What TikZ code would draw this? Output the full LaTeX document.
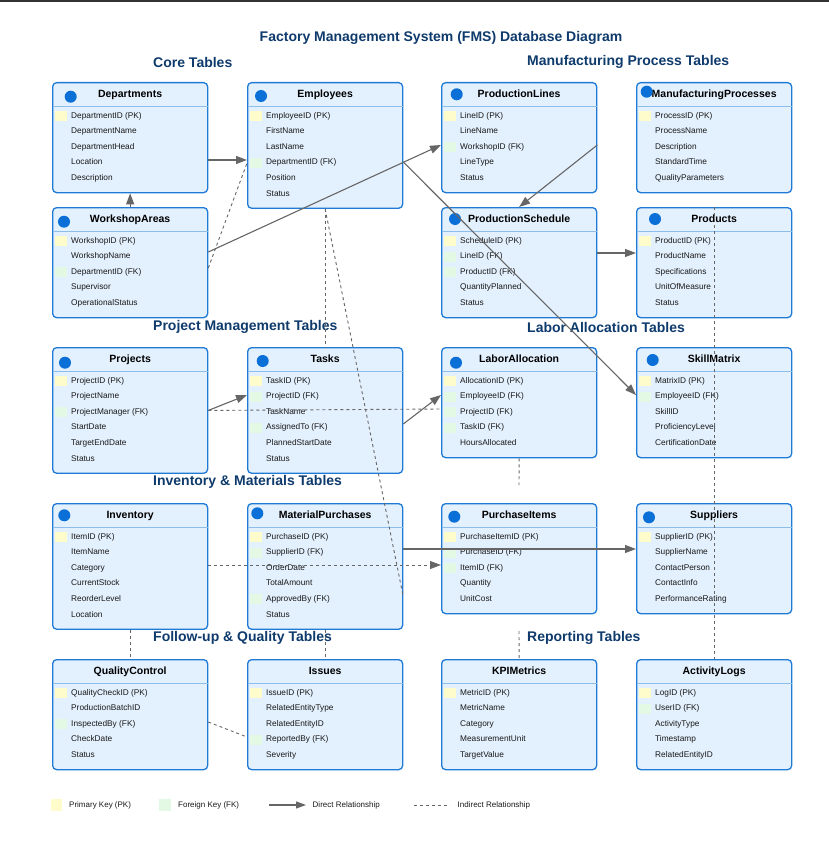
\documentclass[tikz,border=0pt]{standalone}
\usepackage{fontspec}
\setmainfont{Liberation Sans}
\usetikzlibrary{calc,arrows.meta,positioning}
\definecolor{boxfill}{HTML}{E3F0FD}
\definecolor{boxline}{HTML}{1F7AD6}
\definecolor{hdrsep}{HTML}{8DBDEB}
\definecolor{iconblue}{HTML}{0A70D8}
\definecolor{navy}{HTML}{0E3A6C}
\definecolor{keyp}{HTML}{FFFCCB}
\definecolor{keyf}{HTML}{E4F9E4}
\colorlet{keyn}{boxfill}
\definecolor{relgrey}{HTML}{666666}
\definecolor{topbar}{HTML}{333333}
\tikzset{
    tablebox/.style={
    rectangle,rounded corners=4pt,draw=boxline,fill=boxfill,line width=1.3pt,
    minimum width=155pt,inner sep=0pt,anchor=north west
    },
    hdrtext/.style={
    font=\fontsize{10.5}{12}\selectfont\bfseries,text=black,
    text height=7.6pt,text depth=2.2pt,inner sep=0pt
    },
    fieldtext/.style={
    font=\fontsize{8.3}{9}\selectfont,text=black!90,anchor=west,inner sep=0pt,
    text height=6.1pt,text depth=1.8pt
    },
    secttitle/.style={
    font=\fontsize{14}{16}\selectfont\bfseries,text=navy,anchor=west,inner sep=0pt
    },
    legendtext/.style={
    font=\fontsize{8}{9}\selectfont,text=black!90,anchor=west,inner sep=0pt,
    text height=5.9pt,text depth=1.7pt
    },
    icon/.style={
    fill=iconblue
    },
    rel/.style={
    draw=relgrey,line width=1.1pt,->
    },
    indirect/.style={
    draw=relgrey,line width=0.9pt,dash pattern=on 3pt off 3pt
    },
}
% table: name, x, y, title, number of fields, fields (key/text)
\newcommand{\dbtable}[6]{%
  \node[tablebox,minimum height=32+15.6*#5] (#1) at (#2,#3) {};
  \draw[hdrsep,line width=0.9pt] ($(#1.north west)+(0.7,24)$) -- ($(#1.north east)+(-0.7,24)$);
  \node[hdrtext] (#1t) at ($(#1.north)+(0,12.5)$) {#4};
  \foreach \k/\f [count=\i] in {#6} {
    \pgfmathsetmacro\ry{34+15.6*(\i-1)}
    \fill[fill=key\k] ($(#1.north west)+(3,\ry-5)$) rectangle ++(11.7,10);
    \node[fieldtext] (#1f\i) at ($(#1.north west)+(19,\ry)$) {\f};
  }%
}

\begin{document}
\begin{tikzpicture}[x=1pt,y=-1pt,>={Triangle[length=11pt,width=8pt]}]
  \useasboundingbox (0,0) rectangle (829,856);
  \fill[topbar] (0,0) rectangle (829,2);

  \node[font=\fontsize{14}{16}\selectfont\bfseries,text=navy] (title) at (441,38) {Factory Management System (FMS) Database Diagram};
  \node[secttitle] (s1) at (153,62) {Core Tables};
  \node[secttitle] (s2) at (527,62) {Manufacturing Process Tables};
  \node[secttitle] (s3) at (153,327) {Project Management Tables};
  \node[secttitle] (s4) at (527,327) {Labor Allocation Tables};
  \node[secttitle] (s5) at (153,482) {Inventory \& Materials Tables};
  \node[secttitle] (s6) at (153,638) {Follow-up \& Quality Tables};
  \node[secttitle] (s7) at (527,638) {Reporting Tables};

  \dbtable{dept}{52}{82}{Departments}{5}{p/DepartmentID (PK), n/DepartmentName, n/DepartmentHead, n/Location, n/Description}
  \dbtable{emp}{247}{82}{Employees}{6}{p/EmployeeID (PK), n/FirstName, n/LastName, f/DepartmentID (FK), n/Position, n/Status}
  \dbtable{pline}{441}{82}{ProductionLines}{5}{p/LineID (PK), n/LineName, f/WorkshopID (FK), n/LineType, n/Status}
  \dbtable{mproc}{636}{82}{ManufacturingProcesses}{5}{p/ProcessID (PK), n/ProcessName, n/Description, n/StandardTime, n/QualityParameters}
  \dbtable{wshop}{52}{207}{WorkshopAreas}{5}{p/WorkshopID (PK), n/WorkshopName, f/DepartmentID (FK), n/Supervisor, n/OperationalStatus}
  \dbtable{psched}{441}{207}{ProductionSchedule}{5}{p/ScheduleID (PK), f/LineID (FK), f/ProductID (FK), n/QuantityPlanned, n/Status}
  \dbtable{prod}{636}{207}{Products}{5}{p/ProductID (PK), n/ProductName, n/Specifications, n/UnitOfMeasure, n/Status}
  \dbtable{proj}{52}{347}{Projects}{6}{p/ProjectID (PK), n/ProjectName, f/ProjectManager (FK), n/StartDate, n/TargetEndDate, n/Status}
  \dbtable{task}{247}{347}{Tasks}{6}{p/TaskID (PK), f/ProjectID (FK), n/TaskName, f/AssignedTo (FK), n/PlannedStartDate, n/Status}
  \dbtable{labor}{441}{347}{LaborAllocation}{5}{p/AllocationID (PK), f/EmployeeID (FK), f/ProjectID (FK), f/TaskID (FK), n/HoursAllocated}
  \dbtable{skill}{636}{347}{SkillMatrix}{5}{p/MatrixID (PK), f/EmployeeID (FK), n/SkillID, n/ProficiencyLevel, n/CertificationDate}
  \dbtable{inv}{52}{503}{Inventory}{6}{p/ItemID (PK), n/ItemName, n/Category, n/CurrentStock, n/ReorderLevel, n/Location}
  \dbtable{mpur}{247}{503}{MaterialPurchases}{6}{p/PurchaseID (PK), f/SupplierID (FK), n/OrderDate, n/TotalAmount, f/ApprovedBy (FK), n/Status}
  \dbtable{pitem}{441}{503}{PurchaseItems}{5}{p/PurchaseItemID (PK), f/PurchaseID (FK), f/ItemID (FK), n/Quantity, n/UnitCost}
  \dbtable{supp}{636}{503}{Suppliers}{5}{p/SupplierID (PK), n/SupplierName, n/ContactPerson, n/ContactInfo, n/PerformanceRating}
  \dbtable{qc}{52}{659}{QualityControl}{5}{p/QualityCheckID (PK), n/ProductionBatchID, f/InspectedBy (FK), n/CheckDate, n/Status}
  \dbtable{issue}{247}{659}{Issues}{5}{p/IssueID (PK), n/RelatedEntityType, n/RelatedEntityID, f/ReportedBy (FK), n/Severity}
  \dbtable{kpi}{441}{659}{KPIMetrics}{5}{p/MetricID (PK), n/MetricName, n/Category, n/MeasurementUnit, n/TargetValue}
  \dbtable{actlog}{636}{659}{ActivityLogs}{5}{p/LogID (PK), f/UserID (FK), n/ActivityType, n/Timestamp, n/RelatedEntityID}

  \foreach \t/\dx/\dy in {dept/18.7/14.7, emp/14/14, pline/15.7/12.3, mproc/10.7/9.7,
      wshop/12/14.7, psched/14/12, prod/19/12, proj/13/15.7, task/15.7/14,
      labor/15/15.7, skill/16.7/13, inv/12.3/12.3, mpur/10.3/10.3,
      pitem/13.3/13.7, supp/13/14.3}
    \fill[icon] ($(\t.north west)+(\dx,\dy)$) circle (6pt);

  \coordinate (lastub) at (519,485);
  \coordinate (kpistub) at (519,631);

  \draw[rel] ($(dept.north east)+(0,78)$) -- ($(emp.north west)+(0,78)$);
  \draw[rel] (wshop.north) -- (dept.south);
  \draw[rel] ($(wshop.north east)+(0,45)$) -- ($(pline.north west)+(0,63)$);
  \draw[rel] ($(emp.north east)+(0,80)$) -- ($(skill.north west)+(0,48)$);
  \draw[rel] ($(pline.north east)+(0,63)$) -- (psched.north);
  \draw[rel] ($(psched.north east)+(0,46)$) -- ($(prod.north west)+(0,46)$);
  \draw[rel] (proj.east) -- ($(task.north west)+(0,48)$);
  \draw[rel] ($(task.north east)+(0,77)$) -- ($(labor.north west)+(0,48)$);
  \draw[rel] ($(mpur.north east)+(0,46)$) -- ($(supp.north west)+(0,46)$);

  \draw[indirect] ($(wshop.north east)+(0,61)$) -- ($(emp.north west)+(0,81)$);
  \draw[indirect] (emp.south) -- (task.north);
  \draw[indirect] (emp.south) -- ($(mpur.north east)+(0,94)$);
  \draw[indirect] (proj.east) -- ($(labor.north west)+(0,62)$);
  \draw[indirect] (prod.north) -- (actlog.north);
  \draw[indirect] (labor.south) -- (lastub);
  \draw[indirect] (kpistub) -- (kpi.north);
  \draw[indirect] (inv.south) -- (qc.north);
  \draw[indirect] (mpur.south) -- (issue.north);
  \draw[indirect] ($(qc.north east)+(0,63)$) -- ($(issue.north west)+(0,78)$);
  \draw[indirect,->] ($(inv.north east)+(0,62)$) -- ($(pitem.north west)+(0,62)$);

  % legend
  \fill[keyp] (51,799) rectangle (61.5,811);
  \node[legendtext] (lgpk) at (69,805) {Primary Key (PK)};
  \fill[keyf] (159,799) rectangle (170.5,811);
  \node[legendtext] (lgfk) at (178,805) {Foreign Key (FK)};
  \node[legendtext] (lgdir) at (312.5,805) {Direct Relationship};
  \draw[rel,>={Triangle[length=10pt,width=7pt]}] ($(lgdir.west)+(-43.5,0)$) -- ($(lgdir.west)+(-6.5,0)$);
  \node[legendtext] (lgind) at (457.5,805) {Indirect Relationship};
  \draw[indirect] ($(lgind.west)+(-43.5,0)$) -- ($(lgind.west)+(-7.5,0)$);
\end{tikzpicture}
\end{document}
